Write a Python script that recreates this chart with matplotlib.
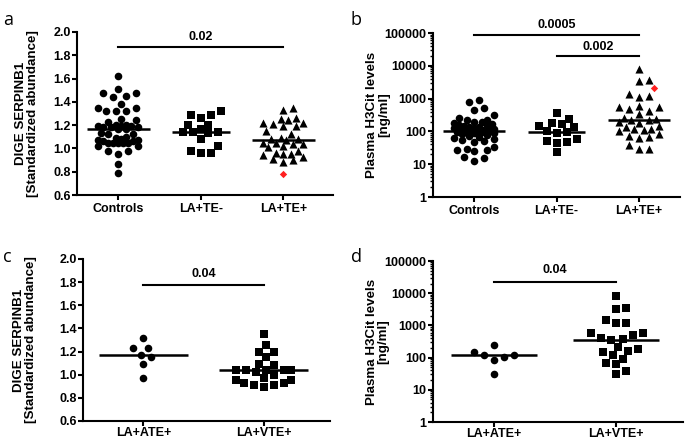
import numpy as np
import matplotlib.pyplot as plt
from matplotlib.ticker import LogLocator, NullFormatter, FixedLocator, FixedFormatter

plt.rcParams['font.family'] = ['Liberation Sans', 'DejaVu Sans']
plt.rcParams['font.weight'] = 'bold'

# ---- data ----
groups_ab = ['Controls', 'LA+TE-', 'LA+TE+']
groups_cd = ['LA+ATE+', 'LA+VTE+']

# panel a: DIGE SERPINB1 (standardized abundance)
serpin_controls = [1.62, 1.51, 1.48, 1.48, 1.45, 1.44, 1.38, 1.35, 1.35, 1.32, 1.32, 1.32,
                   1.25, 1.24, 1.23, 1.20, 1.20, 1.19, 1.18, 1.18, 1.17, 1.17, 1.19, 1.19,
                   1.185, 1.13, 1.12, 1.12, 1.10, 1.09, 1.08, 1.07, 1.06, 1.06, 1.05, 1.05,
                   1.05, 1.05, 1.05, 1.07, 1.02, 1.02, 0.98, 0.98, 0.95, 0.87, 0.79]
serpin_te_neg = [1.32, 1.29, 1.29, 1.26, 1.20, 1.17, 1.20, 1.14, 1.13, 1.14, 1.14,
                 1.08, 1.02, 0.98, 0.96, 0.96]
serpin_te_pos = [1.35, 1.33, 1.26, 1.25, 1.24, 1.22, 1.22, 1.21, 1.19, 1.19, 1.15, 1.12,
                 1.09, 1.08, 1.08, 1.07, 1.05, 1.05, 1.04, 1.04, 1.02, 1.01, 0.98, 0.96,
                 0.95, 0.95, 0.94, 0.93, 0.91, 0.90, 0.88]
serpin_red = 0.78

# panel b: plasma H3Cit (ng/ml)
h3cit_controls = [930, 800, 510, 440, 310, 260, 230, 220, 200, 190, 180, 170, 160, 150,
                  145, 140, 135, 130, 125, 120, 115, 110, 108, 105, 102, 100, 98, 95, 92,
                  90, 85, 80, 75, 70, 65, 60, 55, 50, 48, 33, 30, 28, 28, 25, 17, 15, 12.6]
h3cit_te_neg = [360, 235, 165, 145, 140, 175, 100, 95, 90, 60, 50, 48, 45, 23]
h3cit_te_pos = [8100, 3600, 3400, 1400, 1150, 1170, 560, 490, 580, 350, 420, 560, 250,
                240, 230, 220, 200, 180, 150, 140, 120, 120, 110, 105, 85, 75, 70, 65,
                38, 30, 30]
h3cit_red = 2150

# panel c: SERPINB1 by thrombosis type
serpin_ate = [1.32, 1.23, 1.23, 1.15, 1.17, 1.09, 0.97]
serpin_vte = [1.35, 1.26, 1.15, 1.20, 1.20, 1.08, 1.09, 1.04, 1.02, 1.00, 1.04, 1.04,
              1.04, 1.04, 0.95, 0.93, 0.91, 0.89, 0.91, 0.93, 0.95, 0.97]

# panel d: H3Cit by thrombosis type
h3cit_ate = [240, 120, 107, 85, 120, 150, 30]
h3cit_vte = [8000, 3500, 3150, 1450, 1170, 1170, 580, 510, 370, 350, 415, 570, 180, 120,
             150, 158, 213, 90, 70, 63, 39, 30]

p_a = [(0, 2, '0.02')]
p_b = [(0, 2, '0.0005'), (1, 2, '0.002')]
p_c = [(0, 1, '0.04')]
p_d = [(0, 1, '0.04')]

FS = 9.0      # tick labels / p-values
FS_LAB = 9.6  # axis titles


def swarm_x(ax, xc, values, diam=9.0, step=2.5, maxw=22):
    """GraphPad-like scatter: place each point at the nearest free x offset,
    overlapping as little as possible once the column is full."""
    pts = ax.transData.transform(np.column_stack([np.full(len(values), xc, dtype=float),
                                                  np.asarray(values, dtype=float)]))
    ys = pts[:, 1]
    x0 = pts[0, 0]
    cands = [0.0]
    k = 1
    while k * step <= maxw:
        cands += [k * step, -k * step]
        k += 1
    placed = []
    offs = np.zeros(len(values))
    for i in np.argsort(ys):
        y = ys[i]
        best, best_d = 0.0, -1
        for dx in cands:
            d = min([np.hypot(dx - px, y - py) for px, py in placed], default=1e9)
            if d >= diam:
                best = dx
                break
            if d > best_d + 0.5:
                best, best_d = dx, d
        placed.append((best, y))
        offs[i] = best
    back = ax.transData.inverted().transform(np.column_stack([x0 + offs, ys]))
    return back[:, 0]


def style_axes(ax, cats, xlim, ylabel, label_x, log=False, xpad=0.5):
    ax.set_xlim(*xlim)
    ax.spines['top'].set_visible(False)
    ax.spines['right'].set_visible(False)
    for s in ['left', 'bottom']:
        ax.spines[s].set_linewidth(1.5)
    ax.set_xticks(range(len(cats)))
    ax.set_xticklabels(cats, fontsize=FS, fontweight='bold')
    ax.tick_params(axis='both', which='major', width=1.5, length=3.5, labelsize=FS, pad=1)
    ax.tick_params(axis='x', pad=xpad)
    if log:
        ax.set_yscale('log')
        ax.set_ylim(1, 100000)
        ticks = [1, 10, 100, 1000, 10000, 100000]
        ax.yaxis.set_major_locator(FixedLocator(ticks))
        ax.yaxis.set_major_formatter(FixedFormatter([str(t) for t in ticks]))
        ax.yaxis.set_minor_locator(LogLocator(base=10, subs=np.arange(2, 10), numticks=20))
        ax.yaxis.set_minor_formatter(NullFormatter())
        ax.tick_params(axis='y', which='minor', width=1.0, length=2.2)
    else:
        ax.set_ylim(0.6, 2.0)
        ax.set_yticks(np.arange(0.6, 2.01, 0.2))
        ax.set_yticklabels([f'{v:.1f}' for v in np.arange(0.6, 2.01, 0.2)])
    for lab in ax.get_yticklabels():
        lab.set_fontweight('bold')
    ax.set_ylabel(ylabel, fontsize=FS_LAB, fontweight='bold', linespacing=1.0)
    ax.yaxis.set_label_coords(label_x, 0.5)


def draw_group(ax, i, vals, marker, size, half=0.38, maxw=22):
    xs = swarm_x(ax, i, vals, maxw=maxw)
    ax.scatter(xs, vals, marker=marker, s=size, color='black', linewidths=0, zorder=3,
               clip_on=False)
    ax.hlines(np.median(vals), i - half, i + half, color='black', lw=1.8, zorder=4)


def sig_bars(ax, bars, ys, ts):
    for (i1, i2, txt), y, t in zip(bars, ys, ts):
        ax.plot([i1, i2], [y, y], color='black', lw=1.5, clip_on=False)
        ax.text((i1 + i2) / 2, t, txt, ha='center', va='center', fontsize=FS,
                fontweight='bold')


fig = plt.figure(figsize=(6.85, 4.43), dpi=100)
ax_a = fig.add_axes([0.1124, 0.5598, 0.3737, 0.368])
ax_b = fig.add_axes([0.632, 0.5553, 0.361, 0.370])
ax_c = fig.add_axes([0.1212, 0.0497, 0.3606, 0.3657])
ax_d = fig.add_axes([0.632, 0.0474, 0.365, 0.3634])

serp_label = 'DIGE SERPINB1\n[Standardized abundance]'
h3_label = 'Plasma H3Cit levels\n[ng/ml]'

# panel a
style_axes(ax_a, groups_ab, (-0.5, 2.6), serp_label, -0.148, xpad=2)
draw_group(ax_a, 0, serpin_controls, 'o', 30)
draw_group(ax_a, 1, serpin_te_neg, 's', 28, half=0.35)
draw_group(ax_a, 2, serpin_te_pos, '^', 34)
ax_a.scatter([2], [serpin_red], marker='D', s=14, color='#ff2020', linewidths=0, zorder=5)
sig_bars(ax_a, p_a, [1.874], [1.96])

# panel b
style_axes(ax_b, groups_ab, (-0.5, 2.5), h3_label, -0.174, log=True, xpad=2)
draw_group(ax_b, 0, h3cit_controls, 'o', 30)
draw_group(ax_b, 1, h3cit_te_neg, 's', 28, half=0.35)
draw_group(ax_b, 2, h3cit_te_pos, '^', 34)
ax_b.scatter([2.18], [h3cit_red], marker='D', s=14, color='#ff2020', linewidths=0,
             zorder=5, clip_on=False)
sig_bars(ax_b, p_b, [89000, 20000], [10 ** 5.25, 10 ** 4.57])

# panel c
style_axes(ax_c, groups_cd, (-0.5, 1.55), serp_label, -0.186)
draw_group(ax_c, 0, serpin_ate, 'o', 30, half=0.37, maxw=28)
draw_group(ax_c, 1, serpin_vte, 's', 28, half=0.37, maxw=28)
sig_bars(ax_c, p_c, [1.774], [1.87])

# panel d
style_axes(ax_d, groups_cd, (-0.5, 1.55), h3_label, -0.173, log=True)
draw_group(ax_d, 0, h3cit_ate, 'o', 30, half=0.35, maxw=28)
draw_group(ax_d, 1, h3cit_vte, 's', 28, half=0.35, maxw=28)
sig_bars(ax_d, p_d, [23000], [10 ** 4.72])

# panel letters
for lx, ly, letter in [(0.004, 0.975, 'a'), (0.512, 0.975, 'b'),
                       (0.004, 0.44, 'c'), (0.512, 0.44, 'd')]:
    fig.text(lx, ly, letter, fontsize=13, fontweight='normal', family='Open Sans',
             ha='left', va='top')

fig.savefig('out.png', dpi=100)
